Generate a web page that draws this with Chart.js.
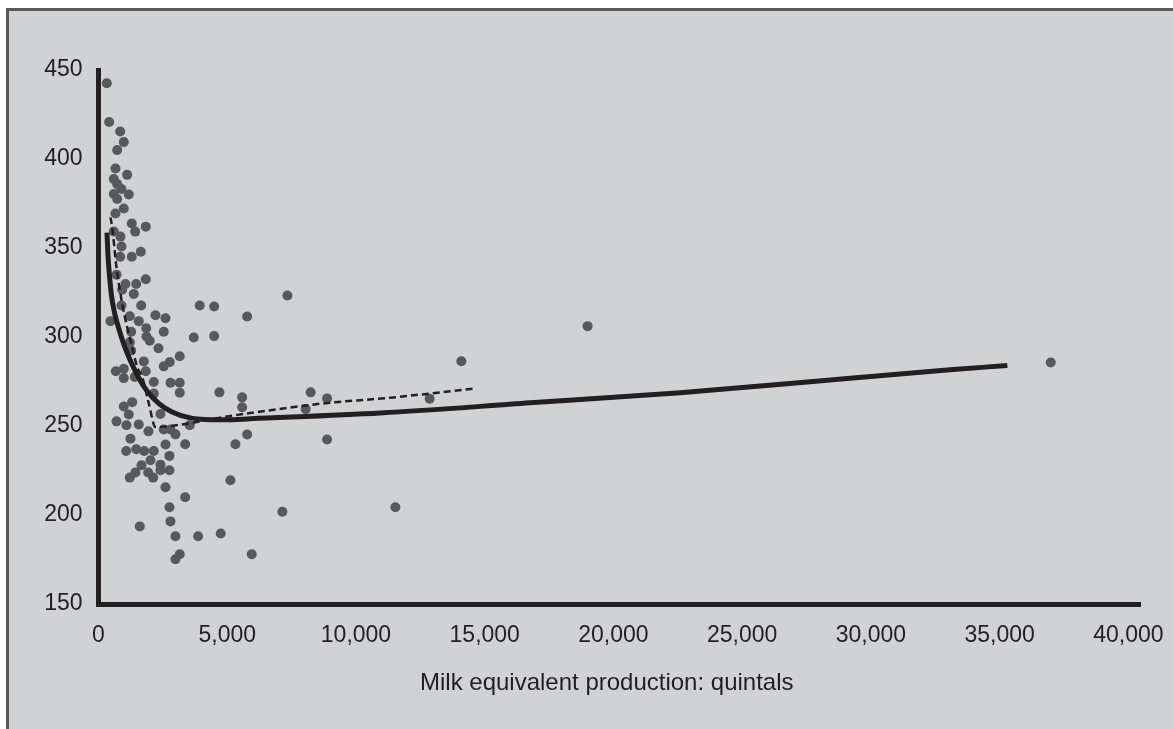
<!DOCTYPE html>
<html><head><meta charset="utf-8">
<script src="https://cdn.jsdelivr.net/npm/chart.js@4.4.0/dist/chart.umd.min.js"></script>
<style>
html,body{margin:0;padding:0;background:#fff;width:1173px;height:729px;overflow:hidden;}
#frame{position:absolute;left:6px;top:8px;right:0;bottom:0;background:#d1d2d4;border-left:3px solid #58595b;border-top:3px solid #58595b;}
#wrap{position:absolute;left:0;top:0;width:1173px;height:729px;}
</style></head><body>
<div id="frame"></div>
<div id="wrap"><canvas id="c" width="1173" height="729"></canvas></div>
<script>
// Tick labels
const xTickValues = [0, 5000, 10000, 15000, 20000, 25000, 30000, 35000, 40000];
const yTickValues = [150, 200, 250, 300, 350, 400, 450];
const xAxisTitle = "Milk equivalent production: quintals";

// Farms: milk equivalent production (quintals) and cost
const farmProduction = [
  322, 415, 842, 982, 726, 660, 1114, 594, 726, 893, 594, 726, 1176, 982, 660, 1293, 1836, 1425, 594, 854,
  893, 1642, 842, 1293, 699, 1048, 1464, 1836, 920, 1370, 893, 1658, 3932, 1215, 1564, 2213, 2601, 466, 1852, 1269,
  2535, 1863, 1991, 3700, 1215, 1269, 2329, 3156, 1759, 2768, 2535, 672, 982, 1836, 982, 1409, 2147, 2795, 3156, 2147,
  3156, 982, 1308, 1176, 2407, 699, 1087, 1564, 1941, 2535, 2795, 2989, 3544, 1242, 1075, 1464, 1774, 2147, 2601, 3366,
  2019, 2756, 1669, 2407, 1436, 1215, 1929, 2123, 2407, 2756, 2601, 3366, 2756, 1603, 2795, 2989, 3870, 3156, 2989,
  4491, 5773, 7337, 4491, 4697, 5578, 5578, 8241, 8878, 8047, 5773, 5318, 8878, 5124, 7143, 4748, 5951,
  14092, 12861, 18995, 11530, 36984
];
const farmCost = [
  442.6, 420.8, 415.4, 409.5, 405.0, 394.7, 391.1, 388.7, 385.9, 383.1, 380.3, 377.5, 380.1, 372.2, 369.4, 363.8, 362.0, 359.2, 359.3, 356.4,
  350.8, 347.9, 345.1, 345.1, 335.0, 329.8, 329.8, 332.4, 326.5, 324.2, 317.7, 317.7, 317.7, 311.7, 308.9, 312.2, 310.5, 308.9, 304.9, 302.9,
  302.9, 300.3, 297.9, 299.7, 297.1, 292.4, 293.7, 289.2, 286.3, 285.9, 283.5, 280.8, 282.2, 280.8, 276.9, 277.5, 274.7, 274.3, 274.3, 268.2,
  268.7, 261.0, 263.4, 256.5, 256.7, 252.6, 250.4, 250.9, 247.0, 248.0, 248.0, 245.3, 250.4, 242.9, 236.0, 236.9, 236.0, 236.0, 239.6, 239.7,
  230.8, 233.2, 227.9, 228.3, 223.9, 221.0, 223.9, 221.0, 225.1, 225.1, 215.6, 210.0, 204.4, 193.6, 196.4, 188.1, 188.1, 177.9, 175.1,
  317.1, 311.5, 323.3, 300.5, 268.9, 266.1, 260.5, 268.9, 265.5, 259.5, 245.2, 239.7, 242.4, 219.5, 201.8, 189.6, 177.9,
  286.4, 265.3, 306.1, 204.4, 285.7
];

// Fitted cost curve (solid)
const curveProduction = [330, 369, 427, 505, 621, 776, 971, 1203, 1475, 1786, 2135, 2601, 3183, 3960, 4930, 5901, 10947, 16770, 22593, 29193, 33075, 35299];
const curveCost = [358.6, 345.7, 334.5, 323.3, 313.7, 305.3, 296.4, 287.9, 279.5, 271.7, 265.5, 259.9, 256.0, 253.8, 253.5, 254.1, 257.3, 263.0, 268.7, 276.8, 281.6, 284.0];

// Alternative fit (dashed)
const dashProduction = [466, 532, 699, 920, 1114, 1308, 1502, 1696, 1953, 2213, 2667, 3443, 4853, 6161, 8735, 11335, 14596];
const dashCost = [367.2, 361.6, 339.1, 318.8, 305.5, 294.3, 283.1, 277.5, 262.7, 249.4, 249.8, 251.3, 255.0, 257.8, 262.7, 265.9, 271.0];

const toXY = (xs, ys) => xs.map((x, i) => ({x: x, y: ys[i]}));
const FONT = "'Liberation Sans', Arial, Helvetica, sans-serif";
const INK = '#231f20';

// Draws the x-axis title, centred where the original places it
const axisTitlePlugin = {
  id: 'axisTitle',
  afterDraw(chart) {
    const ctx = chart.ctx;
    const xs = chart.scales.x;
    ctx.save();
    ctx.font = '24px ' + FONT;
    ctx.fillStyle = INK;
    ctx.textAlign = 'center';
    ctx.textBaseline = 'middle';
    ctx.fillText(xAxisTitle, xs.left + (xs.right - xs.left) * 0.488, xs.bottom - 46);
    ctx.restore();
  }
};

new Chart(document.getElementById('c'), {
  type: 'scatter',
  data: {
    datasets: [
      {
        label: 'Fitted curve',
        data: toXY(curveProduction, curveCost),
        showLine: true,
        borderColor: INK,
        borderWidth: 5,
        pointRadius: 0,
        cubicInterpolationMode: 'monotone',
        borderCapStyle: 'butt',
        order: 0
      },
      {
        label: 'Alternative fit',
        data: toXY(dashProduction, dashCost),
        showLine: true,
        borderColor: INK,
        borderWidth: 2.5,
        borderDash: [7, 4],
        pointRadius: 0,
        cubicInterpolationMode: 'monotone',
        order: 1
      },
      {
        label: 'Farms',
        data: toXY(farmProduction, farmCost),
        backgroundColor: '#58595b',
        borderColor: '#58595b',
        borderWidth: 0,
        pointRadius: 5,
        order: 2
      }
    ]
  },
  plugins: [axisTitlePlugin],
  options: {
    responsive: false,
    animation: false,
    devicePixelRatio: 1,
    layout: {padding: {left: 0, right: 33, top: 70, bottom: 0}},
    plugins: {legend: {display: false}, tooltip: {enabled: false}},
    scales: {
      x: {
        type: 'linear',
        min: 0,
        max: 40450,
        afterBuildTicks: s => { s.ticks = xTickValues.map(v => ({value: v})); },
        afterFit: s => { s.height = 125; s.paddingLeft = 0; s.paddingRight = 0; },
        grid: {display: true, drawOnChartArea: false, drawTicks: false},
        border: {display: true, color: INK, width: 5},
        ticks: {
          color: INK,
          font: {family: FONT, size: 23},
          padding: 18,
          maxRotation: 0,
          autoSkip: false,
          callback: v => Number(v).toLocaleString('en-US')
        },
        title: {display: false}
      },
      y: {
        type: 'linear',
        min: 150,
        max: 450,
        afterBuildTicks: s => { s.ticks = yTickValues.map(v => ({value: v})); },
        afterFit: s => { s.width = 98.5; },
        grid: {display: true, drawOnChartArea: false, drawTicks: false},
        border: {display: true, color: INK, width: 5},
        ticks: {
          color: INK,
          font: {family: FONT, size: 23},
          padding: 16,
          autoSkip: false
        }
      }
    }
  }
});
</script>
</body></html>
